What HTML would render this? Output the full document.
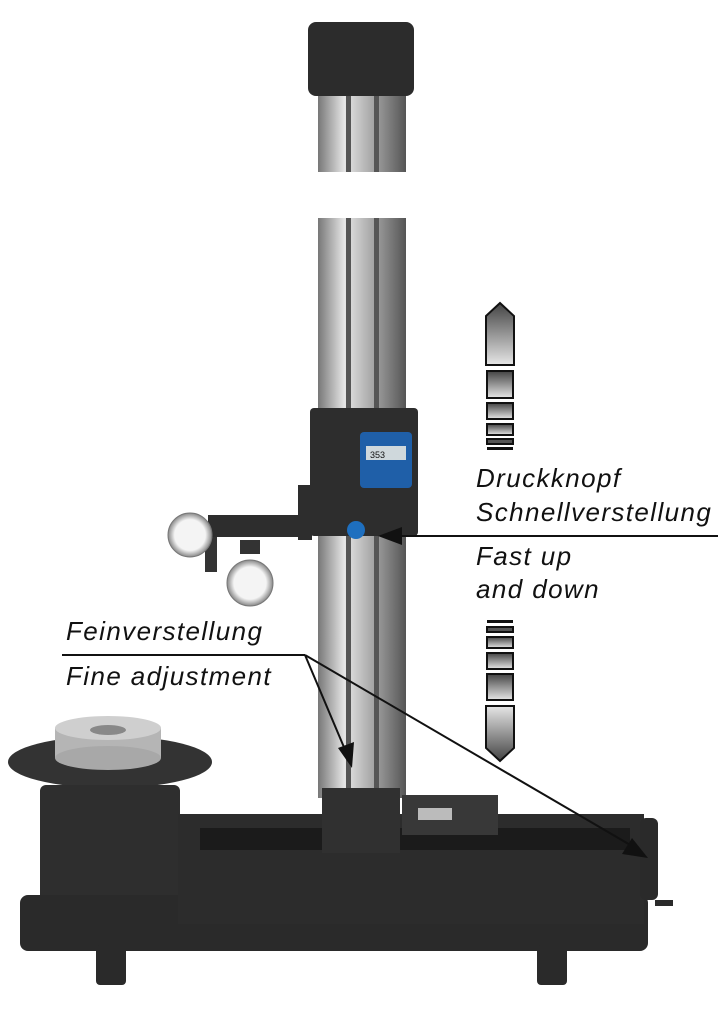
<!DOCTYPE html>
<html><head><meta charset="utf-8"><style>
html,body{margin:0;padding:0;background:#fff;}
svg{display:block}
text{font-family:"Liberation Sans",sans-serif;font-style:italic;fill:#111;font-size:26px;letter-spacing:1.4px;}
</style></head><body>
<svg width="726" height="1024" viewBox="0 0 726 1024" xmlns="http://www.w3.org/2000/svg">
<defs>
<linearGradient id="rod" x1="0" x2="1" y1="0" y2="0">
<stop offset="0" stop-color="#777"/><stop offset="0.3" stop-color="#e6e6e6"/><stop offset="0.6" stop-color="#aaa"/><stop offset="1" stop-color="#555"/></linearGradient>
<linearGradient id="seg" x1="0" x2="0" y1="0" y2="1">
<stop offset="0" stop-color="#444"/><stop offset="1" stop-color="#e6e6e6"/></linearGradient>
<linearGradient id="segd" x1="0" x2="0" y1="0" y2="1">
<stop offset="0" stop-color="#e6e6e6"/><stop offset="1" stop-color="#444"/></linearGradient>
<radialGradient id="gauge"><stop offset="0.7" stop-color="#f4f4f4"/><stop offset="1" stop-color="#888"/></radialGradient>
</defs>
<!-- column -->
<rect x="318" y="90" width="88" height="82" fill="url(#rod)"/>
<rect x="318" y="218" width="88" height="580" fill="url(#rod)"/>
<rect x="346" y="90" width="5" height="82" fill="#555"/><rect x="374" y="90" width="5" height="82" fill="#555"/>
<rect x="346" y="218" width="5" height="580" fill="#555"/><rect x="374" y="218" width="5" height="580" fill="#555"/>
<rect x="308" y="22" width="106" height="74" rx="8" fill="#2c2c2c"/>
<!-- carriage -->
<rect x="310" y="408" width="108" height="128" rx="4" fill="#2d2d2d"/>
<rect x="360" y="432" width="52" height="56" rx="4" fill="#1f5fa8"/>
<rect x="366" y="446" width="40" height="14" fill="#cfd8dc"/>
<text x="370" y="458" style="font-size:9px;font-style:normal;letter-spacing:0">353</text>
<circle cx="356" cy="530" r="9" fill="#1e6fbf"/>
<!-- arm -->
<rect x="298" y="485" width="14" height="55" fill="#2d2d2d"/>
<rect x="208" y="515" width="104" height="22" fill="#2d2d2d"/>
<rect x="205" y="537" width="12" height="35" fill="#333"/>
<rect x="240" y="540" width="20" height="14" fill="#333"/>
<circle cx="190" cy="535" r="22" fill="url(#gauge)" stroke="#777"/>
<circle cx="250" cy="583" r="23" fill="url(#gauge)" stroke="#777"/>
<!-- right arrows -->
<path d="M486 316 L500 303 L514 316 L514 365 L486 365Z" fill="url(#seg)" stroke="#111" stroke-width="2"/>
<rect x="487" y="371" width="26" height="27" fill="url(#seg)" stroke="#111" stroke-width="2"/>
<rect x="487" y="403" width="26" height="16" fill="url(#seg)" stroke="#111" stroke-width="2"/>
<rect x="487" y="424" width="26" height="11" fill="url(#seg)" stroke="#111" stroke-width="2"/>
<rect x="487" y="439" width="26" height="5" fill="#555" stroke="#111" stroke-width="2"/>
<rect x="487" y="447" width="26" height="3" fill="#111"/>
<rect x="487" y="620" width="26" height="3" fill="#111"/>
<rect x="487" y="627" width="26" height="5" fill="#555" stroke="#111" stroke-width="2"/>
<rect x="487" y="637" width="26" height="11" fill="url(#seg)" stroke="#111" stroke-width="2"/>
<rect x="487" y="653" width="26" height="16" fill="url(#seg)" stroke="#111" stroke-width="2"/>
<rect x="487" y="674" width="26" height="26" fill="url(#seg)" stroke="#111" stroke-width="2"/>
<path d="M486 706 L514 706 L514 748 L500 761 L486 748Z" fill="url(#segd)" stroke="#111" stroke-width="2"/>
<!-- labels -->
<text x="476" y="487">Druckknopf</text>
<text x="476" y="521">Schnellverstellung</text>
<line x1="395" y1="536" x2="718" y2="536" stroke="#111" stroke-width="2"/>
<path d="M378 536 L402 527 L402 545Z" fill="#111"/>
<text x="476" y="565">Fast up</text>
<text x="476" y="598">and down</text>
<text x="66" y="640">Feinverstellung</text>
<line x1="62" y1="655" x2="305" y2="655" stroke="#111" stroke-width="2"/>
<text x="66" y="685">Fine adjustment</text>
<!-- base -->
<ellipse cx="110" cy="762" rx="102" ry="26" fill="#333"/>
<rect x="55" y="728" width="106" height="30" fill="#b5b5b5"/>
<ellipse cx="108" cy="758" rx="53" ry="12" fill="#a8a8a8"/>
<ellipse cx="108" cy="728" rx="53" ry="12" fill="#cfcfcf"/>
<ellipse cx="108" cy="730" rx="18" ry="5" fill="#888"/>
<rect x="40" y="785" width="140" height="125" rx="6" fill="#2e2e2e"/>
<rect x="20" y="895" width="628" height="56" rx="8" fill="#2a2a2a"/>
<rect x="96" y="945" width="30" height="40" rx="4" fill="#2a2a2a"/>
<rect x="537" y="945" width="30" height="40" rx="4" fill="#2a2a2a"/>
<rect x="178" y="814" width="466" height="110" fill="#2c2c2c"/>
<rect x="200" y="828" width="430" height="22" fill="#1b1b1b"/>
<rect x="322" y="788" width="78" height="65" fill="#303030"/>
<rect x="402" y="795" width="96" height="40" fill="#383838"/>
<rect x="418" y="808" width="34" height="12" fill="#bbb"/>
<rect x="640" y="818" width="18" height="82" rx="6" fill="#2a2a2a"/>
<rect x="655" y="900" width="18" height="6" fill="#2a2a2a"/>
<!-- fine adjustment arrows -->
<line x1="305" y1="655" x2="346" y2="752" stroke="#111" stroke-width="2"/>
<path d="M352 768 L338 748 L354 742Z" fill="#111"/>
<line x1="305" y1="655" x2="632" y2="846" stroke="#111" stroke-width="2"/>
<path d="M648 858 L622 854 L632 838Z" fill="#111"/>
</svg>
</body></html>
